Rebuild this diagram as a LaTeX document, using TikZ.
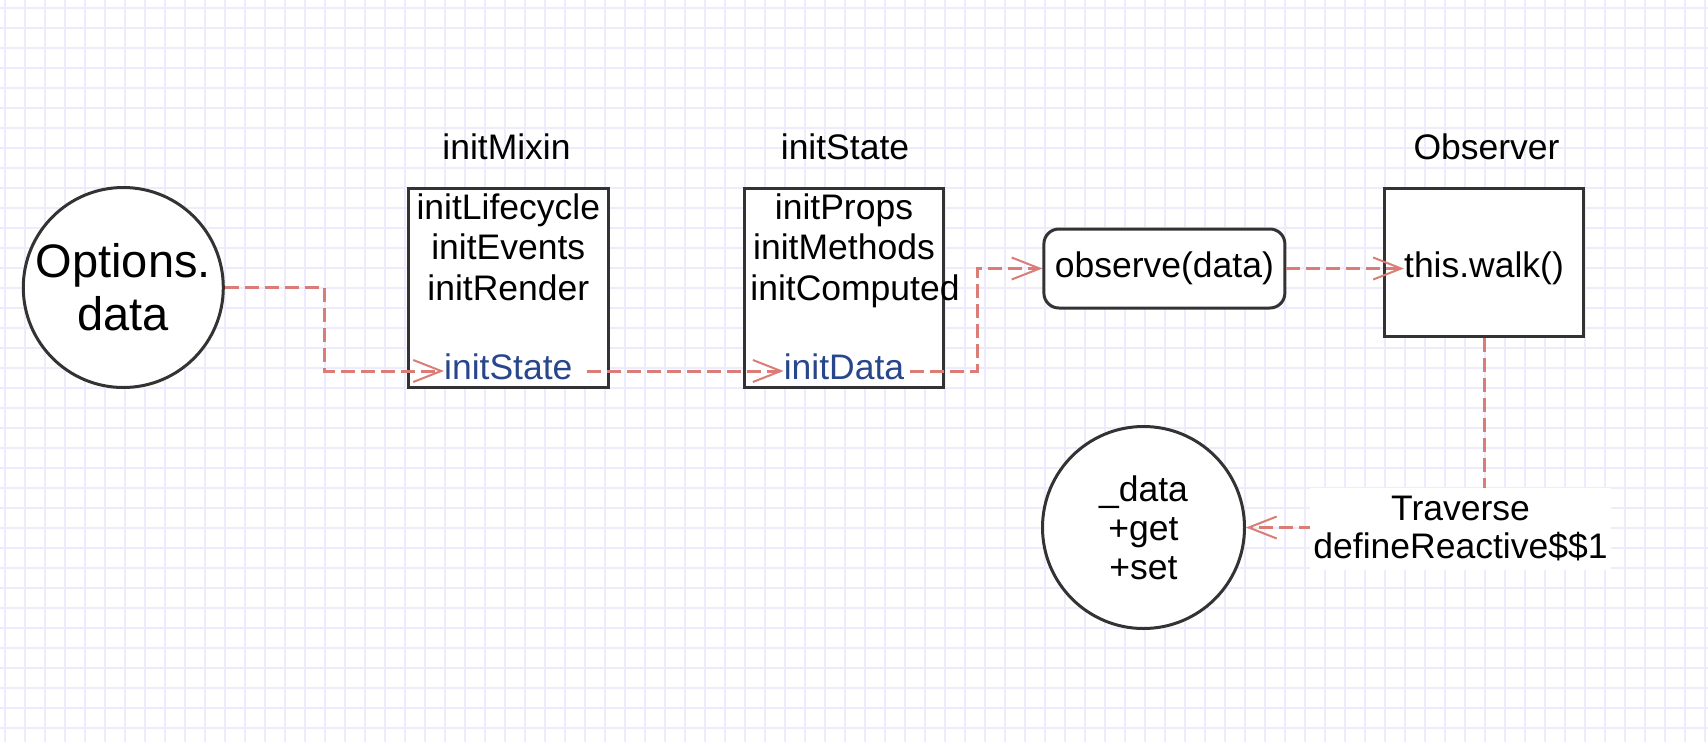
\documentclass[tikz,border=0pt]{standalone}
\usepackage{fontspec}
\setmainfont{Liberation Sans}
\usetikzlibrary{arrows.meta,calc}
\definecolor{edgered}{RGB}{219,125,118}
\definecolor{txtblue}{RGB}{40,70,140}
\definecolor{bordergray}{RGB}{51,51,51}
\definecolor{gridblue}{RGB}{236,236,253}
\tikzset{
  gridline/.style={draw=gridblue, line width=1.5pt},
  box/.style={draw=bordergray, line width=3pt, fill=white, rectangle, inner sep=0pt},
  roundbox/.style={box, rounded corners=15pt, font=\fontsize{35.5}{40.5}\selectfont},
  circ/.style={draw=bordergray, line width=3pt, fill=white, circle, inner sep=0pt, align=center},
  txt/.style={inner sep=0pt, align=center, font=\fontsize{35.5}{40.5}\selectfont},
  bluetxt/.style={txt, text=txtblue, text height=22pt, text depth=5pt},
  walktxt/.style={txt, text height=25pt, text depth=7pt},
  dep/.style={draw=edgered, line width=3pt, dash pattern=on 14pt off 6pt,
    -{Straight Barb[length=28pt,width=22pt,line width=2pt]}},
  lbl/.style={txt, fill=white, minimum width=301pt, minimum height=82pt,
    font=\fontsize{35.5}{38}\selectfont},
}
\begin{document}
\begin{tikzpicture}[x=1pt,y=-1pt]
\useasboundingbox (0,0) rectangle (1708,742);
\fill[white] (0,0) rectangle (1708,742);
\foreach \i in {0,...,85} \draw[gridline] (5+20*\i,0) -- (5+20*\i,742);
\foreach \j in {0,...,36} \draw[gridline] (0,8+20*\j) -- (1708,8+20*\j);

% Options.data
\node[circ, minimum size=200pt, font=\fontsize{47}{53}\selectfont] (opt) at (123.3,287.5) {Options.\\data};

% initMixin
\node[box, minimum width=200pt, minimum height=199pt] (mixin) at (508.3,287.7) {};
\node[txt, anchor=base] (mixinhead) at (506.5,159.5) {initMixin};
\node[txt, anchor=north] (mixinlist) at (508.3,193.5) {initLifecycle\\initEvents\\initRender};
\node[bluetxt] (callstate) at (508.3,371) {initState};

% initState
\node[box, minimum width=199.4pt, minimum height=199pt] (state) at (844,287.7) {};
\node[txt, anchor=base] (statehead) at (845,159.5) {initState};
\node[txt, anchor=north] (statelist) at (844,193.5) {initProps\\initMethods\\\hspace*{22pt}initComputed};
\node[bluetxt] (calldata) at (844,371) {initData};

% observe(data)
\node[roundbox, minimum width=241pt, minimum height=79pt] (obs) at (1164.4,268.5) {observe(data)};

% Observer
\node[box, minimum width=199.4pt, minimum height=148.5pt] (walkbox) at (1484,262.5) {};
\node[txt, anchor=base] (walkhead) at (1486.5,159.5) {Observer};
\node[walktxt] (walk) at (1484,268.5) {this.walk()};

% _data
\node[circ, minimum size=202pt, font=\fontsize{35.5}{39}\selectfont] (data) at (1143.5,527.5) {\_data\\+get\\+set};

% bends
\coordinate (b1) at (324,287.5);
\coordinate (b3) at (977,371);

% connectors
\draw[dep] (opt.east) -- (b1) |- (callstate.west);
\draw[dep, shorten <=14pt] (callstate.east) -- (calldata.west);
\draw[dep, shorten <=6pt] (calldata.east) -- (b3) |- (obs.west);
\draw[dep] (obs.east) -- (walk.west);
\draw[dep] (walkbox.south) |- (data.east)
  node[lbl, pos=0.5, xshift=-23.5pt, yshift=-1.5pt] (trav) {Traverse\\defineReactive\$\$1};
\end{tikzpicture}
\end{document}
